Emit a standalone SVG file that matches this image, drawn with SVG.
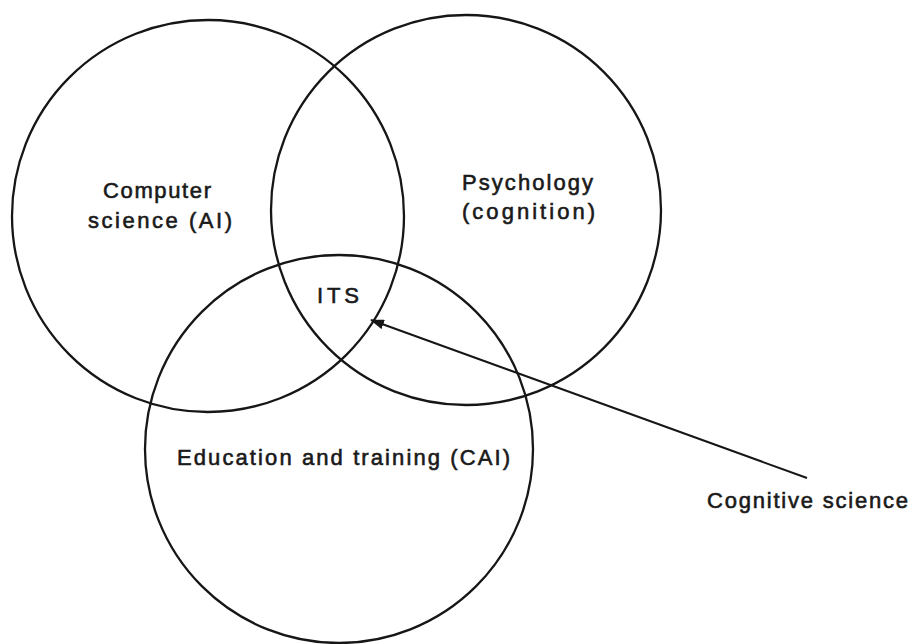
<svg xmlns="http://www.w3.org/2000/svg" width="912" height="644" viewBox="0 0 912 644">
<style>
.c{fill:none;stroke:#161616;stroke-width:2.3}
.t{font-family:"Liberation Sans",Arial,sans-serif;font-size:22px;fill:#1a1a1a;stroke:#1a1a1a;stroke-width:0.6}
.a{fill:none;stroke:#161616;stroke-width:2}
</style>
<defs>
<marker id="ah" markerWidth="14" markerHeight="10" refX="13" refY="5" orient="auto" markerUnits="userSpaceOnUse">
<path d="M0,0 L14,5 L0,10 Z" fill="#161616"/>
</marker>
</defs>
<rect width="912" height="644" fill="#fff"/>
<g id="cs">
<circle class="c" cx="208" cy="216" r="196"/>
<text class="t" x="103" y="198" textLength="108" lengthAdjust="spacing">Computer</text>
<text class="t" x="88" y="228" textLength="144" lengthAdjust="spacing">science (AI)</text>
</g>
<g id="psy">
<circle class="c" cx="466" cy="210" r="195"/>
<text class="t" x="462" y="190" textLength="131" lengthAdjust="spacing">Psychology</text>
<text class="t" x="462" y="219" textLength="133" lengthAdjust="spacing">(cognition)</text>
</g>
<g id="edu">
<circle class="c" cx="339" cy="449" r="194"/>
<text class="t" x="177" y="465" textLength="333" lengthAdjust="spacing">Education and training (CAI)</text>
</g>
<g id="its">
<text class="t" x="317" y="303" textLength="42" lengthAdjust="spacing">ITS</text>
</g>
<g id="cog">
<text class="t" x="707" y="508" textLength="201" lengthAdjust="spacing">Cognitive science</text>
</g>
<g id="connectors">
<line class="a" x1="807" y1="478" x2="371" y2="320" marker-end="url(#ah)"/>
</g>
</svg>
